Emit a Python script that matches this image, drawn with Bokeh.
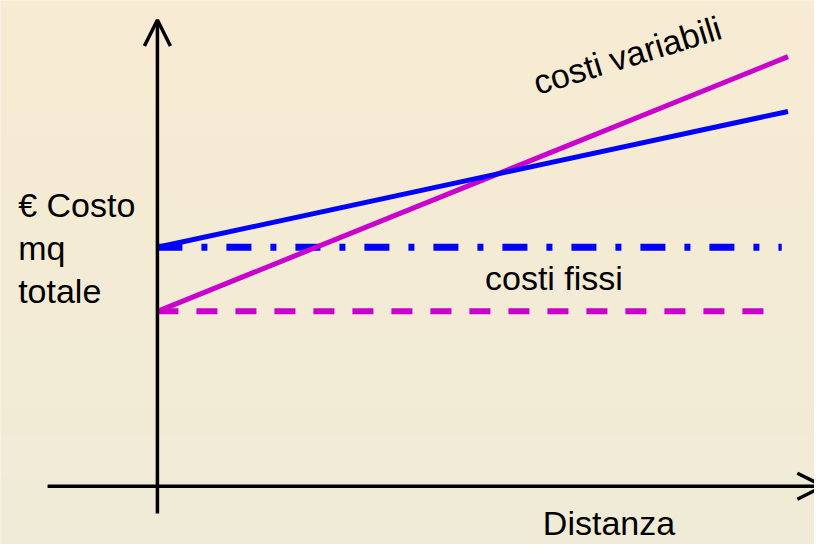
import numpy as np
from bokeh.plotting import figure
from bokeh.models import Arrow, OpenHead, Range1d
from bokeh.core.properties import value
from bokeh.embed import file_html
from bokeh.resources import INLINE

# ---- data (conceptual diagram: cost per mq vs distance) ----
distanza = [0, 10]
costi_variabili = [3.0, 7.37]      # magenta solid line
costo_totale = [4.1, 6.43]         # blue solid line
fissi_x = [0, 9.78]
costi_fissi = [3.0, 3.0]           # magenta dashed line
fissi_tot_x = [0, 9.9]
costi_fissi_tot = [4.1, 4.1]       # blue dash-dot line

label_left = ["€ Costo", "mq", "totale"]
label_fissi = "costi fissi"
label_variabili = "costi variabili"
label_x = "Distanza"

# ---- layout helpers (reference pixel -> data) ----
W, H = 814, 544
REF_W, REF_H = 830, 560
X0, Y0, SX, SY = 160.0, 500.0, 64.3, 60.0
BL = 13.0  # baseline compensation (reference px)


def dx(X):
    return (X - X0) / SX


def dy(Y):
    return (Y0 - Y) / SY


xr = Range1d(dx(0), dx(REF_W))
yr = Range1d(dy(REF_H), dy(0))

p = figure(width=W, height=H, x_range=xr, y_range=yr,
           output_backend="svg", toolbar_location=None,
           x_axis_type=None, y_axis_type=None, min_border=0)
p.grid.visible = False
p.outline_line_color = None
p.border_fill_color = "#F4EBD5"
p.background_fill_color = "#F4EBD5"

# background vertical gradient
n = 64
top = np.array([248, 236, 211])
bot = np.array([240, 235, 216])
img = np.zeros((n, 1), dtype=np.uint32)
view = img.view(dtype=np.uint8).reshape((n, 1, 4))
for i in range(n):
    t = i / (n - 1)  # 0 bottom -> 1 top
    c = bot + (top - bot) * t
    view[i, 0, 0] = int(c[0])
    view[i, 0, 1] = int(c[1])
    view[i, 0, 2] = int(c[2])
    view[i, 0, 3] = 255
p.image_rgba(image=[img], x=xr.start, y=yr.start,
             dw=xr.end - xr.start, dh=yr.end - yr.start)

# axes with arrow heads
p.add_layout(Arrow(end=OpenHead(size=26, line_width=3.5, line_color="black"),
                   x_start=0, y_start=dy(528), x_end=0, y_end=dy(20),
                   line_width=3.5, line_color="black"))
p.add_layout(Arrow(end=OpenHead(size=26, line_width=3.5, line_color="black"),
                   x_start=dx(48), y_start=0, x_end=dx(839), y_end=0,
                   line_width=3.5, line_color="black"))

MAG = "#CC00CC"
BLU = "#0000FF"

p.line(fissi_x, costi_fissi, line_color=MAG, line_width=6, line_dash="21 18")
p.line(fissi_tot_x, costi_fissi_tot, line_color=BLU, line_width=7,
       line_dash="25 19 6 19")
p.line(distanza, costi_variabili, line_color=MAG, line_width=5)
p.line(distanza, costo_totale, line_color=BLU, line_width=5)

font = value("Liberation Sans")
FS = "34px"
p.text(x=[dx(18)] * 3, y=[dy(224 - BL), dy(268 - BL), dy(312 - BL)],
       text=label_left,
       text_font=font, text_font_size=FS, text_color="black",
       text_baseline="alphabetic", text_align="left")
p.text(x=[dx(494)], y=[dy(299 - BL)], text=[label_fissi],
       text_font=font, text_font_size=FS, text_color="black",
       text_baseline="alphabetic", text_align="left")
p.text(x=[dx(553)], y=[dy(551 - BL)], text=[label_x],
       text_font=font, text_font_size=FS, text_color="black",
       text_baseline="alphabetic", text_align="left")
ang = np.deg2rad(17)
p.text(x=[dx(548 - BL * np.sin(ang))], y=[dy(98 - BL * np.cos(ang))],
       text=[label_variabili], angle=17, angle_units="deg",
       text_font=font, text_font_size=FS, text_color="black",
       text_baseline="alphabetic", text_align="left")

open("out.html", "w").write(file_html(p, INLINE))
